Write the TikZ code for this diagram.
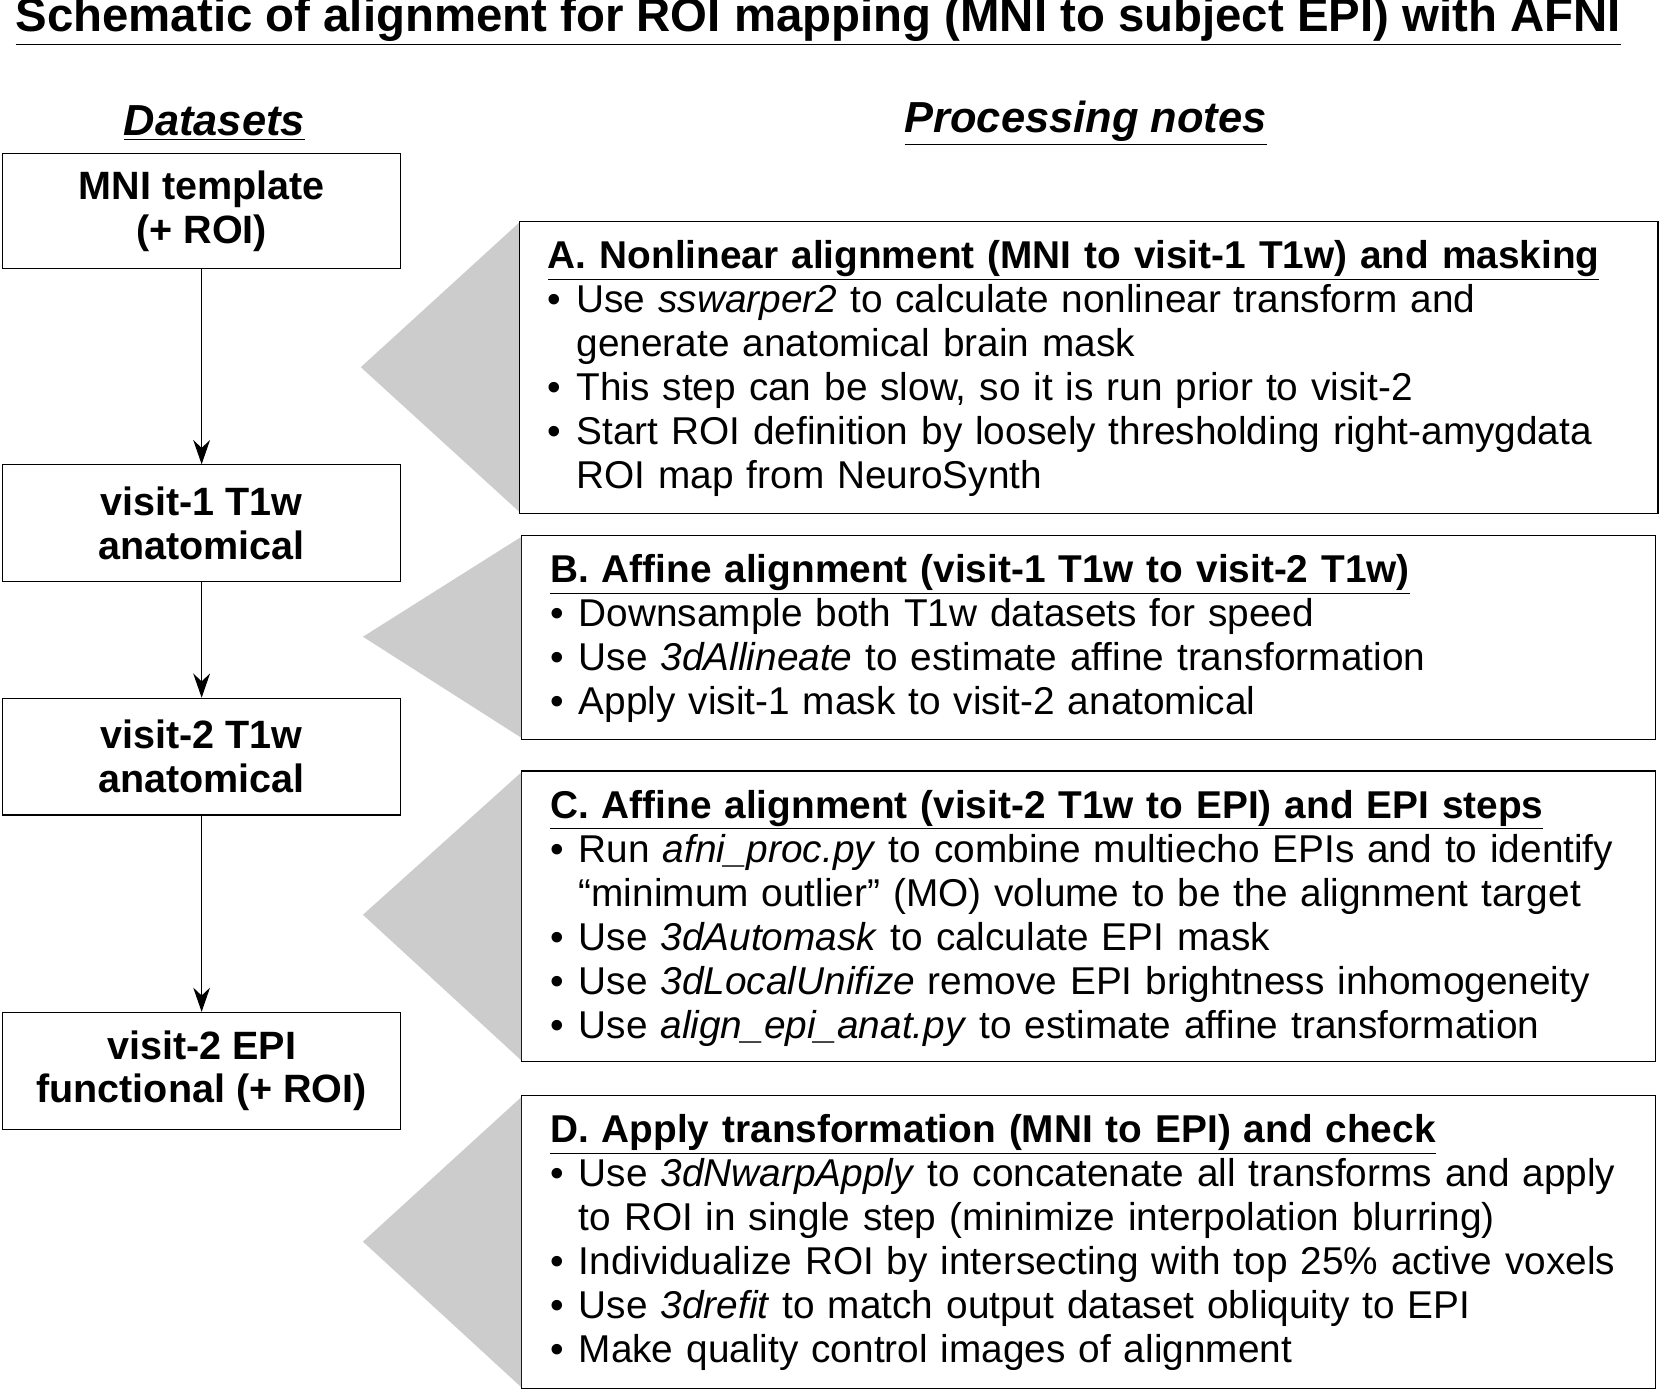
\documentclass[tikz,border=0pt]{standalone}
\usepackage{fontspec}
\setmainfont{Liberation Sans}
\usetikzlibrary{positioning,arrows.meta,calc}
\newcommand{\itm}[1]{\par\hangindent=0.54cm\hangafter=1\makebox[0.54cm][l]{\textbullet}#1\par}
\begin{document}
\begin{tikzpicture}[x=0.02cm, y=-0.02cm]
    % Define styles
    \tikzset{dataset/.style={draw, line width=0.6pt, minimum width=7.5cm, minimum height=2.2cm, align=center, font=\fontsize{21.2}{23.4}\selectfont\bfseries}}
    \tikzset{notebox/.style={draw, line width=0.6pt, anchor=north west, minimum width=21.38cm}}
    \tikzset{notetext/.style={anchor=north west, inner sep=0pt, text width=21cm, align=left, font=\fontsize{20.8}{23.6}\selectfont}}
    \tikzset{wedge/.style={fill=gray!40, draw=none}}
    \tikzset{flow/.style={-{Stealth[length=13pt, width=9pt]}, line width=0.6pt}}
    \useasboundingbox (0,0) rectangle (1568,1315);

    % Title and headers
    \node[font=\fontsize{25.4}{28}\selectfont\bfseries] (title) at (771,20) {\underline{Schematic of alignment for ROI mapping (MNI to subject EPI) with AFNI}};
    \node[font=\fontsize{23.3}{26}\selectfont\bfseries\itshape] (dshead) at (202,116) {\underline{Datasets}};
    \node[font=\fontsize{23.3}{26}\selectfont\bfseries\itshape] (pnhead) at (1023,116) {\underline{Processing notes}};

    % Datasets
    \node[dataset, minimum height=2.16cm] (mni) at (190,199) {MNI template\\(+ ROI)};
    \node[dataset] (visitone) at (190,493) {visit-1 T1w\\anatomical};
    \node[dataset] (visittwo) at (190,713) {visit-2 T1w\\anatomical};
    \node[dataset] (epi) at (190,1009) {visit-2 EPI\\functional (+ ROI)};

    \draw[flow] (mni) -- (visitone);
    \draw[flow] (visitone) -- (visittwo);
    \draw[flow] (visittwo) -- (epi);

    % Processing boxes
    \node[notebox, minimum width=21.46cm, minimum height=5.5cm] (boxA) at (489,208) {};
    \node[notebox, minimum height=3.84cm] (boxB) at (491,504) {};
    \node[notebox, minimum height=5.48cm] (boxC) at (491,726) {};
    \node[notebox, minimum height=5.52cm] (boxD) at (491,1032) {};

    % Wedges
    \coordinate (tipA) at (340,346);
    \coordinate (tipB) at (342,600);
    \coordinate (tipC) at (342,862);
    \coordinate (tipD) at (342,1170);
    \fill[wedge] (tipA) -- ($(boxA.north west)+(0,2)$) -- ($(boxA.south west)+(0,-2)$) -- cycle;
    \fill[wedge] (tipB) -- ($(boxB.north west)+(0,2)$) -- ($(boxB.south west)+(0,-2)$) -- cycle;
    \fill[wedge] (tipC) -- ($(boxC.north west)+(0,2)$) -- ($(boxC.south west)+(0,-2)$) -- cycle;
    \fill[wedge] (tipD) -- ($(boxD.north west)+(0,2)$) -- ($(boxD.south west)+(0,-2)$) -- cycle;

    % Notes
    \node[notetext] (textA) at (516,226) {\textbf{\underline{A. Nonlinear alignment (MNI to visit-1 T1w) and masking}}
        \itm{Use \textit{sswarper2} to calculate nonlinear transform and\newline generate anatomical brain mask}
        \itm{This step can be slow, so it is run prior to visit-2}
        \itm{Start ROI definition by loosely thresholding right-amygdata\newline ROI map from NeuroSynth}};
    \node[notetext] (textB) at (518,522) {\textbf{\underline{B. Affine alignment (visit-1 T1w to visit-2 T1w)}}
        \itm{Downsample both T1w datasets for speed}
        \itm{Use \textit{3dAllineate} to estimate affine transformation}
        \itm{Apply visit-1 mask to visit-2 anatomical}};
    \node[notetext] (textC) at (518,744) {\textbf{\underline{C. Affine alignment (visit-2 T1w to EPI) and EPI steps}}
        \itm{Run \textit{afni\_proc.py} to combine multiecho EPIs and to identify\newline ``minimum outlier'' (MO) volume to be the alignment target}
        \itm{Use \textit{3dAutomask} to calculate EPI mask}
        \itm{Use \textit{3dLocalUnifize} remove EPI brightness inhomogeneity}
        \itm{Use \textit{align\_epi\_anat.py} to estimate affine transformation}};
    \node[notetext] (textD) at (518,1050) {\textbf{\underline{D. Apply transformation (MNI to EPI) and check}}
        \itm{Use \textit{3dNwarpApply} to concatenate all transforms and apply\newline to ROI in single step (minimize interpolation blurring)}
        \itm{Individualize ROI by intersecting with top 25\% active voxels}
        \itm{Use \textit{3drefit} to match output dataset obliquity to EPI}
        \itm{Make quality control images of alignment}};
\end{tikzpicture}
\end{document}
